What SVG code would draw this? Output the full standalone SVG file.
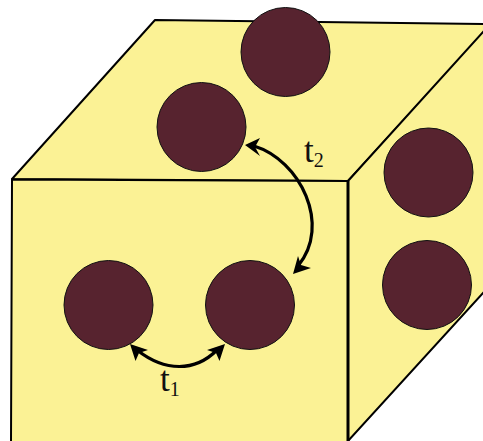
<svg xmlns="http://www.w3.org/2000/svg" width="483" height="441" viewBox="0 0 483 441">
<style>
.face{fill:#fbf295;stroke:#000;stroke-width:2;stroke-linejoin:round}
.dot{fill:#57232f;stroke:#111;stroke-width:1}
.arc{fill:none;stroke:#000;stroke-width:3.200}
.head{fill:#000}
text{font-family:"Liberation Serif",serif;fill:#111}
</style>
<rect width="483" height="441" fill="#fff"/>
<g id="cube">
<path class="face" d="M12 179L155 20L490 24V26L348 181Z"/>
<path class="face" d="M348 181L484 31V292L348 441Z"/>
<path class="face" d="M12 179.500L348 181V442H11Z"/>
<path d="M348 181V441" fill="none" stroke="#000" stroke-width="3"/>
</g>
<g id="dot-top-1"><circle class="dot" cx="285.500" cy="52" r="44.500"/></g>
<g id="dot-top-2"><circle class="dot" cx="201.500" cy="127" r="44.500"/></g>
<g id="dot-right-1"><circle class="dot" cx="428.500" cy="172.500" r="44.500"/></g>
<g id="dot-right-2"><circle class="dot" cx="427" cy="285" r="44.500"/></g>
<g id="dot-front-1"><circle class="dot" cx="108.500" cy="305" r="44.500"/></g>
<g id="dot-front-2"><circle class="dot" cx="250" cy="305" r="44.500"/></g>
<g id="connectors">
<path class="arc" d="M137 350C165 372 195 372 217 350"/>
<path class="head" d="M130 344L148 350L139 353L135.500 361Z"/>
<path class="head" d="M225 344L207 350L216 353L219.500 361Z"/>
<path class="arc" d="M254 146C300 160 332 225 298 266"/>
<path class="head" d="M245 145L260 138L255 147L260 156Z"/>
<path class="head" d="M293 274L298 256L301 265L311 268Z"/>
</g>
<g id="label-t1"><text x="160" y="391" font-size="35">t<tspan font-size="20" dy="5">1</tspan></text></g>
<g id="label-t2"><text x="304" y="162" font-size="35">t<tspan font-size="20" dy="5">2</tspan></text></g>
</svg>
